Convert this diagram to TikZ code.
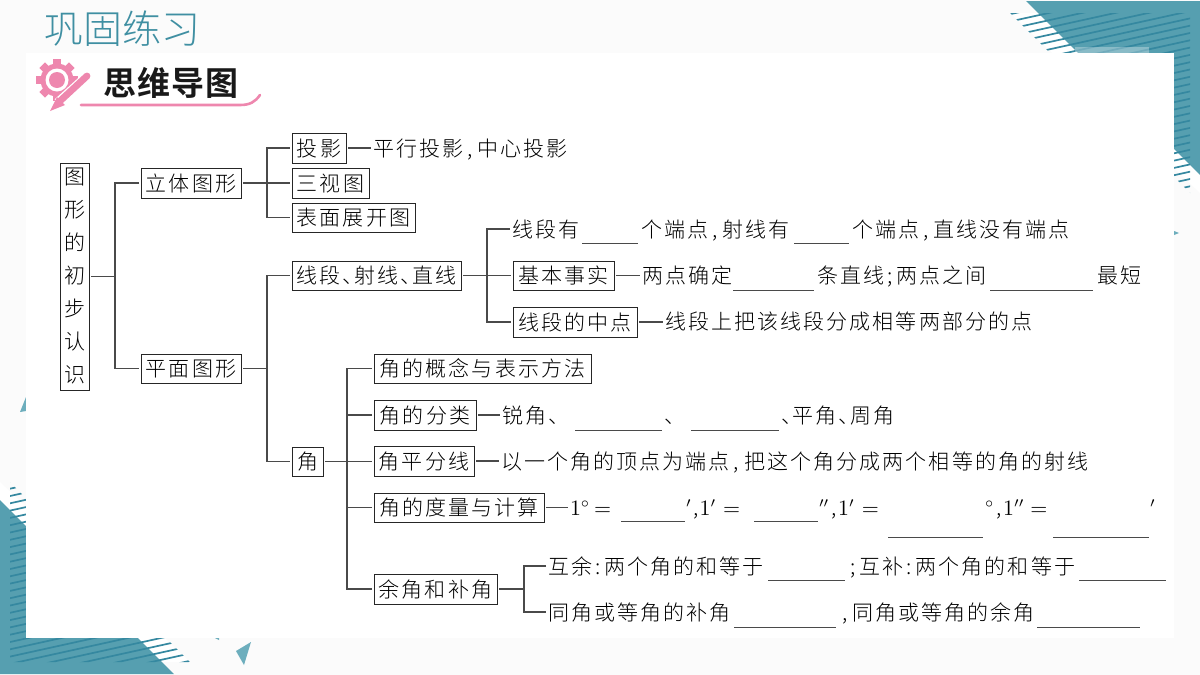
\documentclass[tikz,border=0pt]{standalone}
\usepackage[no-math]{fontspec}
\setmainfont{Noto Sans CJK SC}[UprightFont=* Light,BoldFont=* Bold,LetterSpace=10]
\newfontfamily\ttl{Noto Sans CJK SC}[UprightFont=* Light]
\newfontfamily\hd{Noto Sans CJK SC}[UprightFont=* Bold,LetterSpace=3]
\definecolor{teal1}{HTML}{569FB0}
\definecolor{teal2}{HTML}{3588A0}
\definecolor{teal3}{HTML}{6DAEBD}
\definecolor{ttlc}{HTML}{3F8FA2}
\definecolor{pnk}{HTML}{EE87AE}
\definecolor{bgc}{HTML}{FBFBFB}
\definecolor{lnc}{HTML}{4A4A4A}
\newcommand{\cma}{\kern2pt,\kern2.5pt}
\newcommand{\cln}{\kern1.5pt:\kern2pt}
\newcommand{\smc}{\kern1.5pt;\kern2pt}
\newcommand{\dun}{、\kern-4.6pt}
\newcommand{\cornerdraw}{%
  \fill[white] (1010,13)--(1200,13)--(1200,193)--cycle;
  \fill[teal1] (1026,1)--(1200,1)--(1200,175)--cycle;
  \begin{scope}
   \clip (1010,13)--(1190,13)--(1190,193)--cycle;
   \foreach \k in {-4,...,32}{
    \draw[teal2,line width=0.85pt] (1000,{23.7+7.3*\k}) -- (1200,{23.7+7.3*\k-44});
   }
  \end{scope}
}
\tikzset{
 bx/.style={draw=black!85,line width=0.45pt,anchor=north west,xshift=-1pt,yshift=1pt,inner sep=0pt,outer sep=1pt,text height=9pt,text depth=1pt,align=center,font=\fontsize{10.5}{12}\selectfont},
 rootbx/.style={draw=black!85,line width=0.45pt,anchor=north west,xshift=-1pt,yshift=1pt,inner sep=0pt,outer sep=1pt,align=center,font=\fontsize{10.5}{16.5}\selectfont},
 txt/.style={anchor=west,xshift=-1pt,inner sep=0pt,outer sep=1pt,text height=9pt,text depth=1pt,font=\fontsize{10.5}{12}\selectfont},
 conn/.style={draw=lnc,line width=0.55pt},
 blank/.style={draw=lnc,line width=0.5pt}
}
\begin{document}
\begin{tikzpicture}[x=0.5pt,y=-0.5pt]
\useasboundingbox (0,0) rectangle (1200,675);
\fill[bgc] (0,0) rectangle (1200,675);
\cornerdraw
\begin{scope}[shift={(1200,675)},xscale=-1,yscale=-1]
\cornerdraw
\end{scope}
\fill[teal3] (26,397)--(20,412)--(26,411)--cycle;
\fill[teal3] (251,642)--(236,651)--(244,665)--cycle;
\fill[teal3] (1174,231)--(1179,233)--(1174,235)--cycle;
\fill[teal3] (215,638)--(219,638)--(219,640)--cycle;
\fill[white,opacity=0.3] (1075,47) rectangle (1149,53);
\fill[white] (26,53) rectangle (1174,638);
% title
\node[inner sep=0pt,anchor=west,text=ttlc,font=\fontsize{19.5}{22}\ttl\selectfont] (title) at (44,29) {巩固练习};
% icon
\begin{scope}[shift={(57,80)}]
 \foreach \a in {0,45,...,315}{
  \fill[pnk,rotate=\a] (-4,-21) rectangle (4,0);
 }
 \fill[pnk] (0,0) circle (16.5);
 \fill[white] (0,0) circle (11.5);
 \fill[pnk] (0,0) circle (8);
\end{scope}
\draw[white,line width=5pt] (89,75) -- (58,103);
\draw[pnk,line width=3.4pt,line cap=round] (87,76) -- (60,101);
\fill[pnk] (57,97)--(50,111)--(65,105)--cycle;
\node[inner sep=0pt,anchor=west,text=black!90,font=\fontsize{16.5}{20}\hd\selectfont] (heading) at (103,83) {思维导图};
\draw[pnk,line width=1.3pt,line cap=round] (81,105) -- (240,105) .. controls (250,105) and (255,102) .. (260,95);
% boxes
\node[rootbx,minimum width=14.5pt,minimum height=113.5pt] (root) at (60,163) {图\\形\\的\\初\\步\\认\\识};
\node[bx,minimum width=50pt,minimum height=15pt] (lt) at (141,168) {立体图形};
\node[bx,minimum width=50pt,minimum height=14.5pt] (pm) at (141,354) {平面图形};
\node[bx,minimum width=27pt,minimum height=15pt] (ty) at (292,133) {投影};
\node[bx,minimum width=38.5pt,minimum height=15pt] (sst) at (292,168) {三视图};
\node[bx,minimum width=61.5pt,minimum height=14.5pt] (bm) at (292,203) {表面展开图};
\node[bx,minimum width=84.5pt,minimum height=14.5pt] (xd) at (292,261) {线段\dun 射线\dun 直线};
\node[bx,minimum width=50.5pt,minimum height=14.5pt] (js) at (513,261) {基本事实};
\node[bx,minimum width=62pt,minimum height=15pt] (zd) at (513,307) {线段的中点};
\node[bx,minimum width=108.5pt,minimum height=14.5pt] (gn) at (374,354) {角的概念与表示方法};
\node[bx,minimum width=51pt,minimum height=15pt] (fl) at (374,400) {角的分类};
\node[bx,minimum width=50pt,minimum height=15pt] (pf) at (374,446) {角平分线};
\node[bx,minimum width=85pt,minimum height=14.5pt] (dl) at (374,493) {角的度量与计算};
\node[bx,minimum width=61.5pt,minimum height=15pt] (yb) at (374,574) {余角和补角};
\node[bx,minimum width=15.5pt,minimum height=14.5pt] (jiao) at (292,447) {角};
% text rows
\node[txt] (r1) at (373,148) {平行投影\cma 中心投影};
\node[txt] (r2a) at (512,229) {线段有};
\node[txt] (r2b) at (641,229) {个端点\cma 射线有};
\node[txt] (r2c) at (852,229) {个端点\cma 直线没有端点};
\node[txt] (r3a) at (642,275) {两点确定};
\node[txt] (r3b) at (817,275) {条直线\smc 两点之间};
\node[txt] (r3c) at (1097,275) {最短};
\node[txt] (r4) at (665,321) {线段上把该线段分成相等两部分的点};
\node[txt] (r5a) at (502,415) {锐角\dun};
\node[txt] (r5b) at (664,415) {\dun};
\node[txt] (r5c) at (781,415) {\dun 平角\dun 周角};
\node[txt] (r6) at (501,461) {以一个角的顶点为端点\cma 把这个角分成两个相等的角的射线};
\node[txt] (m1) at (570,507) {$1^\circ$\kern2pt$=$};
\node[txt] (m2) at (686,507) {$^\prime$\rlap{\kern1pt,}\kern4pt$1^\prime$\kern3.5pt$=$};
\node[txt] (m3) at (819,507) {$^{\prime\prime}$\rlap{\kern1pt,}\kern4.5pt$1^\prime$\kern3.5pt$=$};
\node[txt] (m4) at (985,507) {$^\circ$\rlap{\kern1pt,}\kern4.5pt$1^{\prime\prime}$\kern3pt$=$};
\node[txt] (m5) at (1150,507) {$^\prime$};
\node[txt] (r8a) at (548,566) {互余\cln 两个角的和等于};
\node[txt] (r8b) at (847,566) {\smc 互补\cln 两个角的和等于};
\node[txt] (r9a) at (548,612) {同角或等角的补角};
\node[txt] (r9b) at (838,612) {\cma 同角或等角的余角};
% blanks
\foreach \a/\b/\y in {582/638/243,794/849/243,733/814/290,990/1093/290,575/662/430,691/779/430,621/685/521,754/818/521,888/983/537,1053/1149/537,768/845/580,1079/1166/580,734/836/627,1037/1140/627}{
 \draw[blank] (\a,\y) -- (\b,\y);
}
% junctions
\coordinate (j1) at (115,276);
\coordinate (j2) at (267,183);
\coordinate (j3) at (267,368);
\coordinate (j4) at (487,275);
\coordinate (j5) at (347,461);
\coordinate (j6) at (524,589);
% connectors
\draw[conn] (root.east) -- (root.east -| j1);
\draw[conn] (lt.west) -| (j1) |- (pm.west);
\draw[conn] (lt.east) -- (lt.east -| sst.west);
\draw[conn] (ty.west) -| (j2) |- (bm.west);
\draw[conn] (pm.east) -- (pm.east -| j3);
\draw[conn] (xd.west) -| (j3) |- (jiao.west);
\draw[conn] (xd.east) -- (xd.east -| js.west);
\draw[conn] (r2a.west) -| (j4) |- (zd.west);
\draw[conn] (jiao.east) -- (jiao.east -| pf.west);
\draw[conn] (gn.west) -| (j5) |- (yb.west);
\draw[conn] (fl.west) -- (fl.west -| j5);
\draw[conn] (dl.west) -- (dl.west -| j5);
\draw[conn] (yb.east) -- (yb.east -| j6);
\draw[conn] (r8a.west) -| (j6) |- (r9a.west);
\draw[conn] (ty.east) -- (ty.east -| r1.west);
\draw[conn] (js.east) -- (js.east -| r3a.west);
\draw[conn] (zd.east) -- (zd.east -| r4.west);
\draw[conn] (fl.east) -- (fl.east -| r5a.west);
\draw[conn] (pf.east) -- (pf.east -| r6.west);
\draw[conn] (dl.east) -- (dl.east -| m1.west);
\end{tikzpicture}
\end{document}
